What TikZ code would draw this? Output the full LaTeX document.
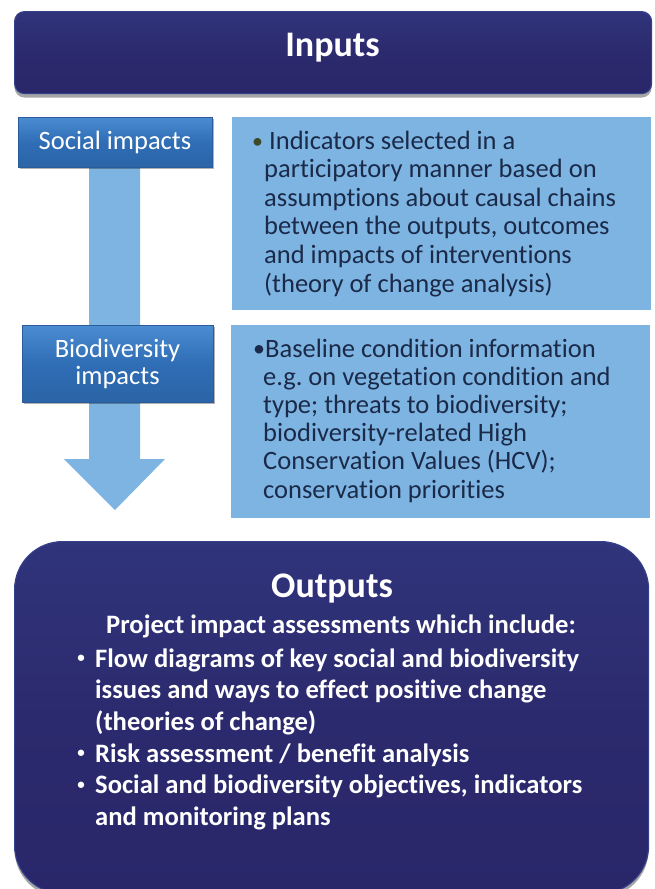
\documentclass[tikz,border=0pt]{standalone}
\usepackage{fontspec}
\setmainfont[Ligatures=NoCommon]{Carlito}
\usetikzlibrary{shadows}
\frenchspacing
\definecolor{navy}{HTML}{2C2A6E}
\definecolor{navytop}{HTML}{34408A}
\definecolor{navybot}{HTML}{29276A}
\definecolor{midblue}{HTML}{2F6DB5}
\definecolor{midtop}{HTML}{4A8CD2}
\definecolor{midedge}{HTML}{2A5C9C}
\definecolor{lightblue}{HTML}{7EB4E2}
\definecolor{darktext}{HTML}{1A2A48}
\definecolor{olivebullet}{HTML}{3E4B2B}
\tikzset{
  navybox/.style={draw=navytop, line width=1.2pt, top color=navytop!45!navy, bottom color=navybot, middle color=navy,
    drop shadow={shadow xshift=0pt, shadow yshift=-4pt, opacity=0.35, fill=black}, inner sep=0pt},
  midbox/.style={draw=midedge, line width=0.8pt, top color=midtop, bottom color=midblue!92!black, middle color=midblue,
    drop shadow={shadow xshift=2pt, shadow yshift=-2pt, opacity=0.3, fill=black}, inner sep=0pt, anchor=north west},
  lightbox/.style={fill=lightblue, inner sep=0pt, anchor=north west},
  titletext/.style={text=white, font=\bfseries\fontsize{36}{40}\selectfont, inner sep=0pt, anchor=base},
  labeltext/.style={text=white, font=\fontsize{26.5}{27}\selectfont, inner sep=0pt, anchor=base, align=center},
  bodytext/.style={text=darktext, inner sep=0pt, anchor=base west},
  outtext/.style={text=white, inner sep=0pt, anchor=base west},
  bulletmark/.style={inner sep=0pt, anchor=base}
}
\begin{document}
\begin{tikzpicture}[x=1pt,y=-1pt]
\useasboundingbox (0,0) rectangle (654,889);
\clip (0,0) rectangle (654,889);
% Inputs bar
\node[navybox, rounded corners=10pt, minimum width=637pt, minimum height=82pt, anchor=north west] (inputs) at (14,11) {};
\node[titletext] (inputsT) at (332.5,56) {Inputs};
% block arrow
\fill[lightblue] (89,160) -- (140,160) -- (140,459) -- (165,459) -- (115,510) -- (64,459) -- (89,459) -- cycle;
% left boxes
\node[midbox, minimum width=194pt, minimum height=50pt] (social) at (18,117) {};
\node[labeltext] (socialT) at (115,149) {Social impacts};
\node[midbox, minimum width=191pt, minimum height=77pt] (bio) at (22,325) {};
\node[labeltext] (bioT1) at (117.5,357) {Biodiversity};
\node[labeltext] (bioT2) at (117.5,384) {impacts};
% right text boxes
\node[lightbox, minimum width=419pt, minimum height=193pt] (txt1) at (232,117) {};
\node[bulletmark, text=olivebullet, font=\fontsize{22}{24}\selectfont] (b1) at (257.5,148) {•};
\node[bodytext] (txt1T) at (264,149) {\parbox[t]{385pt}{\fontsize{26.5}{28.6}\selectfont
\hspace*{5pt}Indicators selected in a\\
participatory manner based on\\
assumptions about causal chains\\
between the outputs, outcomes\\
and impacts of interventions\\
(theory of change analysis)}};
\node[lightbox, minimum width=419pt, minimum height=193pt] (txt2) at (231,325) {};
\node[bulletmark, text=darktext, font=\fontsize{24}{26}\selectfont] (b2) at (259,356) {•};
\node[bodytext] (txt2T) at (263,357) {\parbox[t]{385pt}{\fontsize{26.5}{28.2}\selectfont
\hspace*{2pt}Baseline condition information\\
e.g. on vegetation condition and\\
type; threats to biodiversity;\\
biodiversity-related High\\
Conservation Values (HCV);\\
conservation priorities}};
% Outputs box
\node[navybox, rounded corners=48pt, minimum width=634pt, minimum height=352pt, anchor=north west] (outputs) at (14,541) {};
\node[titletext] (outputsT) at (332,597) {Outputs};
\node[outtext, font=\bfseries\fontsize{26.6}{28}\selectfont] (proj) at (106,633) {Project impact assessments which include:};
\node[bulletmark, text=white, font=\bfseries\fontsize{15}{16}\selectfont] (ob1) at (81,662) {•};
\node[bulletmark, text=white, font=\bfseries\fontsize{15}{16}\selectfont] (ob2) at (81,757) {•};
\node[bulletmark, text=white, font=\bfseries\fontsize{15}{16}\selectfont] (ob3) at (81,789) {•};
\node[outtext] (outL) at (95,667) {\parbox[t]{560pt}{\bfseries\fontsize{26.6}{31.7}\selectfont
Flow diagrams of key social and biodiversity\\
issues and ways to effect positive change\\
(theories of change)\\
Risk assessment / benefit analysis\\
Social and biodiversity objectives, indicators\\
and monitoring plans}};
\end{tikzpicture}
\end{document}
